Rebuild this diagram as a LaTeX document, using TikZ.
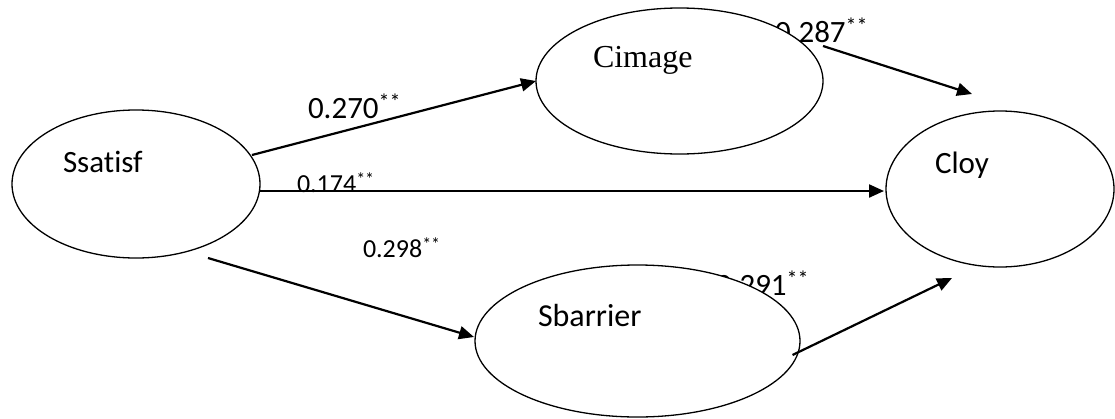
\documentclass[tikz,border=0pt]{standalone}
\usepackage{fontspec}
\setmainfont{Carlito}[Ligatures={NoCommon}]
\newfontfamily\timesf{Liberation Serif}
\usetikzlibrary{arrows.meta,calc,shapes.geometric}
\newcommand{\fs}[1]{\fontsize{#1}{#1}\selectfont}
\newcommand{\bigst}{\raisebox{9pt}{\fs{22}**}}
\newcommand{\smlst}{\raisebox{7pt}{\fs{18}**}}
\tikzset{
  ell/.style={draw=black, line width=1.3pt, fill=white, ellipse, inner sep=0pt, outer sep=0pt},
  conn/.style={line width=2.2pt, -{Triangle[length=15pt,width=13pt]}},
  txt/.style={inner sep=0pt, outer sep=0pt, anchor=base west},
  biglab/.style={txt, font=\fs{31}},
  smllab/.style={txt, font=\fs{26}},
  nlab/.style={txt, font=\fs{31}}
}
\begin{document}
\begin{tikzpicture}[x=1pt,y=-1pt]
\useasboundingbox (0,0) rectangle (1115,418);
% edge labels (drawn under ellipses)
\node[biglab] (l1) at (308,118) {0.270\bigst};
\node[smllab] (l2) at (297,192) {0.174\smlst};
\node[smllab] (l3) at (363,257) {0.298\smlst};
\node[biglab] (l4) at (775,42) {0.287\bigst};
\node[biglab] (l5) at (716,295) {0.291\bigst};
% ellipses
\node[ell, minimum width=248pt, minimum height=148pt] (ss) at (136,184) {};
\node[ell, minimum width=287pt, minimum height=146pt] (ci) at (679.5,81) {};
\node[ell, minimum width=228pt, minimum height=156pt] (cl) at (1000,189) {};
\node[ell, minimum width=325pt, minimum height=152pt] (sb) at (637.5,341) {};
% ellipse texts
\node[nlab, font=\fs{31}] (sst) at (63,172) {Ssatisf};
\node[nlab, font=\fs{32}\timesf] (cit) at (593,67) {Cimage};
\node[nlab, font=\fs{31}] (clt) at (935,173) {Cloy};
\node[nlab, font=\fs{32}] (sbt) at (538,326) {Sbarrier};
% connectors
\draw[conn] ($(ss)+(116,-29)$) -- (ci.west);
\draw[conn] ($(ss)+(124,7)$) -- ($(cl)+(-116,2)$);
\draw[conn] ($(ss)+(72,74)$) -- ($(sb)+(-163.5,-4)$);
\draw[conn] ($(ci)+(143.5,-35)$) -- ($(cl)+(-28,-95)$);
\draw[conn] ($(sb)+(155,14)$) -- ($(cl)+(-48,89)$);
\end{tikzpicture}
\end{document}
